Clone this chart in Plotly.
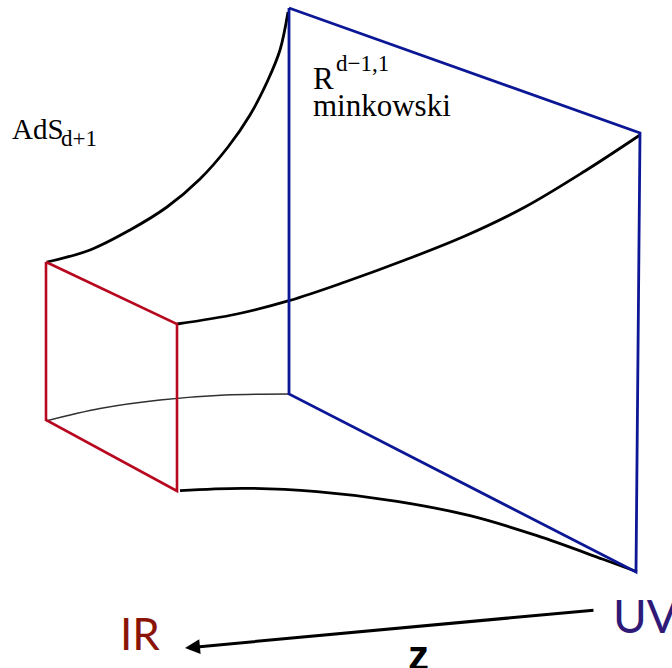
import plotly.graph_objects as go

# Points (pixel-like coordinates of the diagram)
uv_x = [289, 640, 636, 289, 289]
uv_y = [8, 133, 572, 394, 8]
ir_x = [46, 177, 177, 46, 46]
ir_y = [262, 324, 491, 420, 262]
top_left_x = [47, 90, 130, 167, 200, 228, 250, 268, 280, 288]
top_left_y = [262, 250, 230, 207, 179, 147, 115, 80, 50, 12]
top_right_x = [177, 237, 289, 345, 405, 465, 525, 585, 640]
top_right_y = [324, 314, 300.7, 282, 260, 236, 207, 171, 135]
bottom_back_x = [46, 100, 160, 225, 288]
bottom_back_y = [421, 408.5, 400, 395, 394]
bottom_front_x = [180, 243, 317, 397, 470, 537, 603, 637]
bottom_front_y = [490.7, 488.3, 491.7, 501.3, 515.7, 535.7, 559.3, 571.7]

traces = [
    (top_left_x, top_left_y, "#000000", 2.8, "spline"),
    (top_right_x, top_right_y, "#000000", 2.8, "spline"),
    (bottom_back_x, bottom_back_y, "#303030", 1.4, "spline"),
    (bottom_front_x, bottom_front_y, "#000000", 2.8, "spline"),
    (uv_x, uv_y, "#0c1796", 2.8, "linear"),
    (ir_x, ir_y, "#b8081f", 2.6, "linear"),
]
fig = go.Figure()
for xs, ys, c, w, sh in traces:
    fig.add_trace(go.Scatter(x=xs, y=ys, mode="lines", line=dict(color=c, width=w, shape=sh, smoothing=1.0), hoverinfo="skip"))

serif = "Liberation Serif"
labels = [
    (10, 129, "AdS", 29, "#000000", serif, "normal"),
    (59, 138, "d+1", 23, "#000000", serif, "normal"),
    (311, 78, "R", 31, "#000000", serif, "normal"),
    (334, 63, "d−1,1", 23, "#000000", serif, "normal"),
    (311, 105, "minkowski", 31, "#000000", serif, "normal"),
    (118, 633, "IR", 44, "#8b1408", "Lato", "normal"),
    (611, 615, "UV", 46, "#2f1a78", "Lato", "normal"),
    (406, 655, "z", 42, "#000000", "Liberation Sans", "bold"),
]
for x, y, t, s, c, f, wt in labels:
    fig.add_annotation(x=x, y=y, text=t, showarrow=False, xanchor="left", yanchor="middle",
                       font=dict(size=s, color=c, family=f, weight=wt))

fig.add_annotation(x=185, y=648, ax=595, ay=610, xref="x", yref="y", axref="x", ayref="y",
                   text="", showarrow=True, arrowhead=2, arrowsize=1, arrowwidth=3, arrowcolor="#000000")

fig.update_layout(
    width=672, height=668, margin=dict(l=0, r=0, t=0, b=0), showlegend=False,
    paper_bgcolor="white", plot_bgcolor="white",
    xaxis=dict(range=[0, 672], visible=False, fixedrange=True),
    yaxis=dict(range=[668, 0], visible=False, fixedrange=True),
)
fig.write_html("out.html", config=dict(displayModeBar=False),
               post_script="document.body.style.margin='0';document.documentElement.style.overflow='hidden';")
